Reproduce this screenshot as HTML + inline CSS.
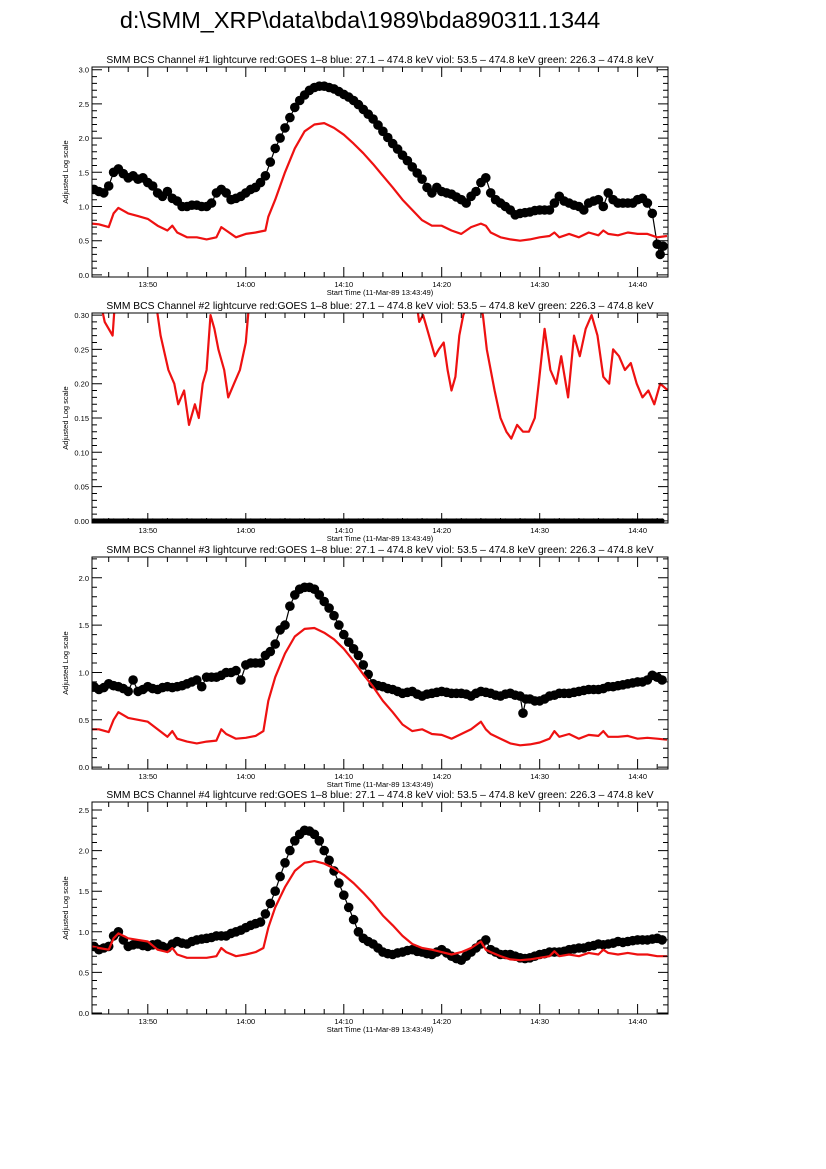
<!DOCTYPE html>
<html><head><meta charset="utf-8"><style>
html,body{margin:0;padding:0;background:#fff;}
svg{display:block;font-family:"Liberation Sans",sans-serif;}
</style></head><body>
<svg id="chart" width="826" height="1169" viewBox="0 0 826 1169" xmlns="http://www.w3.org/2000/svg">
<rect x="0" y="0" width="826" height="1169" fill="#fff"/>
<text x="360" y="28" font-size="23.5" text-anchor="middle" fill="#000">d:\SMM_XRP\data\bda\1989\bda890311.1344</text>
</svg>
<script>
// ---- data (time in minutes after 13:00) ----
const xTickTimes = [50, 60, 70, 80, 90, 100];
const xTickLabels = ["13:50", "14:00", "14:10", "14:20", "14:30", "14:40"];

const p1RedT = [44.3,45,46,46.5,47,48,49,50,51,52,52.5,53,54,55,56,57,57.5,58,59,60,61,62,62.3,63,64,65,66,67,68,69,70,71,72,73,74,75,76,77,78,79,80,81,82,83,84,84.5,85,86,87,88,89,90,91,91.5,92,93,94,95,96,96.5,97,98,99,100,101,102,103];
const p1RedV = [0.75,0.74,0.7,0.9,0.98,0.9,0.86,0.82,0.72,0.65,0.72,0.62,0.55,0.55,0.52,0.55,0.7,0.65,0.55,0.6,0.62,0.65,0.85,1.1,1.5,1.85,2.1,2.2,2.22,2.15,2.05,1.92,1.78,1.62,1.45,1.28,1.1,0.95,0.8,0.72,0.72,0.65,0.6,0.7,0.75,0.72,0.62,0.55,0.52,0.5,0.52,0.55,0.57,0.62,0.55,0.6,0.55,0.62,0.58,0.65,0.6,0.58,0.62,0.6,0.6,0.55,0.57];
const p1BlkT = [44.5,45,45.5,46,46.5,47,47.5,48,48.5,49,49.5,50,50.5,51,51.5,52,52.5,53,53.5,54,54.5,55,55.5,56,56.5,57,57.5,58,58.5,59,59.5,60,60.5,61,61.5,62,62.5,63,63.5,64,64.5,65,65.5,66,66.5,67,67.5,68,68.5,69,69.5,70,70.5,71,71.5,72,72.5,73,73.5,74,74.5,75,75.5,76,76.5,77,77.5,78,78.5,79,79.5,80,80.5,81,81.5,82,82.5,83,83.5,84,84.5,85,85.5,86,86.5,87,87.5,88,88.5,89,89.5,90,90.5,91,91.5,92,92.5,93,93.5,94,94.5,95,95.5,96,96.5,97,97.5,98,98.5,99,99.5,100,100.5,101,101.5,102,102.3,102.6];
const p1BlkV = [1.25,1.22,1.2,1.3,1.5,1.55,1.48,1.42,1.45,1.4,1.42,1.35,1.3,1.2,1.15,1.22,1.12,1.08,1.0,1.0,1.02,1.02,1.0,1.0,1.05,1.2,1.25,1.2,1.1,1.12,1.15,1.2,1.25,1.28,1.35,1.45,1.65,1.85,2.0,2.15,2.3,2.45,2.55,2.63,2.7,2.74,2.76,2.76,2.74,2.72,2.68,2.64,2.6,2.55,2.49,2.42,2.35,2.28,2.19,2.1,2.01,1.92,1.84,1.75,1.67,1.58,1.49,1.4,1.28,1.2,1.28,1.22,1.2,1.18,1.14,1.1,1.05,1.15,1.22,1.35,1.42,1.2,1.1,1.05,1.0,0.95,0.88,0.9,0.91,0.92,0.94,0.95,0.95,0.95,1.05,1.15,1.08,1.05,1.02,1.0,0.95,1.05,1.08,1.1,1.0,1.2,1.1,1.05,1.05,1.05,1.05,1.1,1.12,1.05,0.9,0.45,0.3,0.42];

const p2RedT = [44.3,45.3,45.6,46.0,46.4,46.6,47.5,49,50.5,50.9,51.3,52.1,52.7,53.1,53.7,54.2,54.8,55.2,55.6,56.0,56.4,56.8,57.2,57.8,58.2,58.8,59.4,60.0,60.3,62,66,70,74,77.5,77.7,78.1,78.7,79.3,79.7,80.2,80.6,81.0,81.4,81.8,82.2,82.5,83,83.8,84.2,84.6,85.0,85.4,86.0,86.6,87.1,87.7,88.3,88.9,89.5,89.9,90.5,91.1,91.7,92.2,92.9,93.5,94.1,94.7,95.3,95.9,96.5,97.1,97.5,98.1,98.7,99.3,99.9,100.5,101.1,101.7,102.3,103.1];
const p2RedV = [0.32,0.31,0.29,0.28,0.27,0.31,0.34,0.34,0.33,0.31,0.27,0.22,0.2,0.17,0.19,0.14,0.17,0.15,0.2,0.22,0.3,0.28,0.25,0.22,0.18,0.2,0.22,0.26,0.31,0.35,0.36,0.36,0.35,0.31,0.29,0.3,0.27,0.24,0.25,0.26,0.22,0.19,0.21,0.27,0.3,0.31,0.33,0.32,0.3,0.25,0.22,0.19,0.15,0.13,0.12,0.14,0.13,0.13,0.15,0.2,0.28,0.22,0.2,0.24,0.18,0.27,0.24,0.28,0.3,0.27,0.21,0.2,0.25,0.24,0.22,0.23,0.2,0.18,0.19,0.17,0.2,0.19];
const p2BlkT = [44.5,45.5,46.5,47.5,48.5,49.5,50.5,51.5,52.5,53.5,54.5,55.5,56.5,57.5,58.5,59.5,60.5,61.5,62.5,63.5,64.5,65.5,66.5,67.5,68.5,69.5,70.5,71.5,72.5,73.5,74.5,75.5,76.5,77.5,78.5,79.5,80.5,81.5,82.5,83.5,84.5,85.5,86.5,87.5,88.5,89.5,90.5,91.5,92.5,93.5,94.5,95.5,96.5,97.5,98.5,99.5,100.5,101.5,102.5];
const p2BlkV = p2BlkT.map(() => 0);

const p3RedT = [44.3,45,46,46.5,47,48,49,50,51,52,52.5,53,54,55,56,57,57.5,58,59,60,61,61.8,62.3,63,64,65,66,67,68,69,70,71,72,73,74,75,76,77,78,79,80,81,82,83,84,84.5,85,86,87,88,89,90,91,91.5,92,93,94,95,96,96.5,97,98,99,100,101,102,103];
const p3RedV = [0.4,0.4,0.37,0.5,0.58,0.52,0.5,0.48,0.4,0.32,0.38,0.3,0.27,0.25,0.27,0.28,0.4,0.35,0.3,0.31,0.33,0.38,0.7,0.95,1.2,1.38,1.46,1.47,1.42,1.35,1.25,1.12,0.98,0.85,0.7,0.58,0.45,0.38,0.4,0.35,0.34,0.3,0.35,0.4,0.48,0.4,0.35,0.3,0.25,0.23,0.24,0.26,0.3,0.38,0.32,0.35,0.3,0.34,0.33,0.38,0.32,0.32,0.33,0.3,0.31,0.3,0.29];
const p3BlkT = [44.5,45,45.5,46,46.5,47,47.5,48,48.5,49,49.5,50,50.5,51,51.5,52,52.5,53,53.5,54,54.5,55,55.5,56,56.5,57,57.5,58,58.5,59,59.5,60,60.5,61,61.5,62,62.5,63,63.5,64,64.5,65,65.5,66,66.5,67,67.5,68,68.5,69,69.5,70,70.5,71,71.5,72,72.5,73,73.5,74,74.5,75,75.5,76,76.5,77,77.5,78,78.5,79,79.5,80,80.5,81,81.5,82,82.5,83,83.5,84,84.5,85,85.5,86,86.5,87,87.5,88,88.3,88.6,89,89.5,90,90.5,91,91.5,92,92.5,93,93.5,94,94.5,95,95.5,96,96.5,97,97.5,98,98.5,99,99.5,100,100.5,101,101.5,102,102.5];
const p3BlkV = [0.85,0.82,0.84,0.88,0.86,0.85,0.83,0.8,0.92,0.8,0.82,0.85,0.83,0.82,0.84,0.85,0.84,0.85,0.86,0.88,0.9,0.92,0.85,0.95,0.95,0.95,0.97,1.0,1.0,1.02,0.92,1.08,1.1,1.1,1.1,1.18,1.22,1.3,1.45,1.5,1.7,1.82,1.88,1.9,1.9,1.88,1.82,1.75,1.68,1.6,1.5,1.4,1.32,1.25,1.18,1.08,0.98,0.88,0.86,0.85,0.83,0.82,0.8,0.78,0.79,0.8,0.77,0.75,0.77,0.78,0.79,0.8,0.79,0.78,0.78,0.78,0.77,0.75,0.78,0.8,0.79,0.78,0.76,0.75,0.77,0.78,0.76,0.75,0.57,0.72,0.72,0.7,0.7,0.72,0.75,0.76,0.78,0.78,0.78,0.79,0.8,0.81,0.82,0.82,0.82,0.83,0.85,0.85,0.86,0.87,0.88,0.89,0.9,0.9,0.92,0.97,0.95,0.92];

const p4RedT = [44.3,45,46,46.5,47,48,49,50,51,52,52.5,53,54,55,56,57,57.5,58,59,60,61,61.8,62.3,63,64,65,66,67,68,69,70,71,72,73,74,75,76,77,78,79,80,81,82,83,84,84.5,85,86,87,88,89,90,91,91.5,92,93,94,95,96,96.5,97,98,99,100,101,102,103];
const p4RedV = [0.82,0.8,0.78,0.92,0.98,0.92,0.9,0.88,0.78,0.75,0.8,0.72,0.68,0.68,0.68,0.7,0.8,0.75,0.7,0.72,0.75,0.8,1.05,1.3,1.55,1.75,1.85,1.87,1.84,1.78,1.7,1.6,1.48,1.35,1.2,1.08,0.95,0.85,0.8,0.78,0.75,0.72,0.75,0.8,0.88,0.78,0.75,0.7,0.66,0.65,0.66,0.68,0.7,0.76,0.7,0.72,0.7,0.74,0.72,0.78,0.74,0.72,0.74,0.72,0.72,0.7,0.7];
const p4BlkT = [44.5,45,45.5,46,46.5,47,47.5,48,48.5,49,49.5,50,50.5,51,51.5,52,52.5,53,53.5,54,54.5,55,55.5,56,56.5,57,57.5,58,58.5,59,59.5,60,60.5,61,61.5,62,62.5,63,63.5,64,64.5,65,65.5,66,66.5,67,67.5,68,68.5,69,69.5,70,70.5,71,71.5,72,72.5,73,73.5,74,74.5,75,75.5,76,76.5,77,77.5,78,78.5,79,79.5,80,80.5,81,81.5,82,82.5,83,83.5,84,84.5,85,85.5,86,86.5,87,87.5,88,88.5,89,89.5,90,90.5,91,91.5,92,92.5,93,93.5,94,94.5,95,95.5,96,96.5,97,97.5,98,98.5,99,99.5,100,100.5,101,101.5,102,102.5];
const p4BlkV = [0.82,0.78,0.8,0.82,0.95,1.0,0.9,0.82,0.84,0.85,0.83,0.82,0.84,0.85,0.82,0.8,0.85,0.88,0.86,0.85,0.88,0.9,0.91,0.92,0.93,0.95,0.95,0.95,0.98,1.0,1.02,1.05,1.08,1.1,1.12,1.22,1.35,1.5,1.68,1.85,2.0,2.12,2.2,2.25,2.24,2.2,2.12,2.0,1.88,1.75,1.6,1.45,1.3,1.15,1.0,0.92,0.88,0.85,0.8,0.75,0.73,0.72,0.74,0.75,0.77,0.78,0.76,0.75,0.73,0.72,0.75,0.78,0.74,0.7,0.67,0.65,0.7,0.75,0.8,0.85,0.9,0.78,0.75,0.72,0.72,0.72,0.7,0.68,0.67,0.68,0.7,0.72,0.73,0.75,0.75,0.75,0.76,0.78,0.79,0.8,0.8,0.82,0.83,0.85,0.84,0.85,0.86,0.88,0.87,0.88,0.89,0.9,0.9,0.9,0.91,0.92,0.9];

const titleRest = " lightcurve  red:GOES 1\u20138  blue: 27.1 \u2013 474.8 keV  viol: 53.5 \u2013 474.8 keV  green: 226.3 \u2013 474.8 keV";

const NS = "http://www.w3.org/2000/svg";
const svg = document.getElementById("chart");
const X0 = 92, X1 = 668, T0 = 44.3, T1 = 103.1;
function xScale(t){ return X0 + (t - T0) / (T1 - T0) * (X1 - X0); }
function mk(tag, attrs, parent){
  const e = document.createElementNS(NS, tag);
  for (const k in attrs) e.setAttribute(k, attrs[k]);
  (parent || svg).appendChild(e);
  return e;
}

const panels = [
  {n:1, top:67, bot:277, ymin:-0.03, ymax:3.04, major:0.5, minor:0.1, dec:1, red:[p1RedT,p1RedV], blk:[p1BlkT,p1BlkV]},
  {n:2, top:313, bot:523, ymin:-0.003, ymax:0.303, major:0.05, minor:0.01, dec:2, red:[p2RedT,p2RedV], blk:[p2BlkT,p2BlkV]},
  {n:3, top:557, bot:769, ymin:-0.02, ymax:2.22, major:0.5, minor:0.1, dec:1, red:[p3RedT,p3RedV], blk:[p3BlkT,p3BlkV]},
  {n:4, top:802, bot:1014, ymin:-0.012, ymax:2.598, major:0.5, minor:0.1, dec:1, red:[p4RedT,p4RedV], blk:[p4BlkT,p4BlkV]}
];

panels.forEach(p => {
  const g = mk("g", {});
  
  
  const yScale = v => p.bot - (v - p.ymin) / (p.ymax - p.ymin) * (p.bot - p.top);

  const clip = mk("clipPath", {id:"clip" + p.n}, g);
  mk("rect", {x:X0, y:p.top, width:X1 - X0, height:p.bot - p.top}, clip);

  const title = mk("text", {x:380, y:p.top - 4, "font-size":10.3, "text-anchor":"middle"}, g);
  
  
  title.textContent = "SMM BCS Channel #" + p.n + titleRest;

  const bg = mk("g", {"clip-path":"url(#clip" + p.n + ")"}, g);
  
  
  const [bt, bv] = p.blk;
  let d = "";
  bt.forEach((t, i) => { d += (i ? "L" : "M") + xScale(t).toFixed(1) + "," + yScale(bv[i]).toFixed(1); });
  mk("path", {d:d, fill:"none", stroke:"#000", "stroke-width":1.2}, bg);
  if (p.n === 2) {
    const ln = mk("line", {x1:xScale(bt[0]), x2:xScale(bt[bt.length-1]), y1:yScale(0), y2:yScale(0), stroke:"#000", "stroke-width":5}, bg);
    
    
  }
  bt.forEach((t, i) => {
    const c = mk("circle", {cx:xScale(t).toFixed(1), cy:yScale(bv[i]).toFixed(1), r: p.n === 2 ? 2.5 : 4.8, fill:"#000"}, bg);
    
    
  });

  const [rt, rv] = p.red;
  let rd = "";
  rt.forEach((t, i) => { rd += (i ? "L" : "M") + xScale(t).toFixed(1) + "," + yScale(rv[i]).toFixed(1); });
  const rl = mk("path", {d:rd, fill:"none", stroke:"#ee1111", "stroke-width":2.2, "stroke-linejoin":"round", "clip-path":"url(#clip" + p.n + ")"}, g);
  
  

  const fr = mk("rect", {x:X0, y:p.top, width:X1 - X0, height:p.bot - p.top, fill:"none", stroke:"#000", "stroke-width":1}, g);
  
  

  let td = "";
  for (let t = 46; t <= 102; t += 2) {
    const x = xScale(t).toFixed(1);
    const len = (t % 10 === 0) ? 10 : 5;
    td += "M" + x + "," + p.bot + "v" + (-len) + "M" + x + "," + p.top + "v" + len;
  }
  const nMin = Math.ceil(p.ymin / p.minor - 1e-6), nMax = Math.floor(p.ymax / p.minor + 1e-6);
  const per = Math.round(p.major / p.minor);
  for (let k = nMin; k <= nMax; k++) {
    const y = yScale(k * p.minor).toFixed(1);
    const len = (k % per === 0) ? 10 : 5;
    td += "M" + X0 + "," + y + "h" + len + "M" + X1 + "," + y + "h" + (-len);
    if (k % per === 0) {
      const lb = mk("text", {x:X0 - 3, y:+y + 3, "font-size":7.5, "text-anchor":"end"}, g);
      
      
      lb.textContent = (k * p.minor).toFixed(p.dec);
    }
  }
  mk("path", {d:td, stroke:"#000", "stroke-width":1, fill:"none"}, g);

  xTickTimes.forEach((t, i) => {
    const lb = mk("text", {x:xScale(t), y:p.bot + 10, "font-size":7.5, "text-anchor":"middle"}, g);
    
    
    lb.textContent = xTickLabels[i];
  });
  const xl = mk("text", {x:380, y:p.bot + 18, "font-size":7.5, "text-anchor":"middle"}, g);
  
  
  xl.textContent = "Start Time (11-Mar-89 13:43:49)";
  const ym = (p.top + p.bot) / 2;
  const yl = mk("text", {x:68, y:ym, "font-size":7.5, "text-anchor":"middle", transform:"rotate(-90 68 " + ym + ")"}, g);
  
  
  yl.textContent = "Adjusted Log scale";
});
</script>
</body></html>
